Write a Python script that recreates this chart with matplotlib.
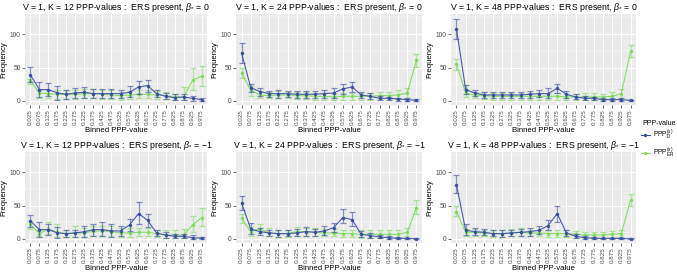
import matplotlib
matplotlib.use("Agg")
import matplotlib.pyplot as plt
from matplotlib.lines import Line2D
import numpy as np

bins = ["0.025","0.075","0.125","0.175","0.225","0.275","0.325","0.375","0.425","0.475",
        "0.525","0.575","0.625","0.675","0.725","0.775","0.825","0.875","0.925","0.975"]

# Panel 1: K=12, beta=0
d1_mean = [39,17,17,12,10,12,13,11,11,11,11,13,21,23,11,7,5,6,4,2]
d1_lo   = [28,6,7,2,3,4,5,4,4,4,4,6,11,14,6,3,1,1,0,0]
d1_hi   = [51,28,27,23,17,19,21,18,18,18,17,22,30,32,17,12,11,11,8,5]
e1_mean = [30,12,11,10,10,10,11,11,10,9,8,9,10,10,9,8,6,6,31,37]
e1_lo   = [25,5,4,3,3,3,4,4,3,3,2,3,4,4,3,3,1,1,16,23]
e1_hi   = [33,17,17,17,16,17,18,18,17,16,14,15,16,16,15,13,11,21,49,53]

# Panel 2: K=24, beta=0
d2_mean = [72,20,14,11,11,11,10,10,10,11,12,18,21,9,7,4,4,3,2,1]
d2_lo   = [57,13,7,6,5,6,5,5,5,4,5,11,14,5,3,1,1,0,0,0]
d2_hi   = [86,25,20,15,16,15,15,15,15,17,19,25,28,13,12,7,6,5,4,3]
e2_mean = [42,16,9,8,9,9,8,8,7,7,6,7,7,7,7,8,8,9,12,61]
e2_lo   = [35,8,4,4,4,4,3,3,2,2,1,2,2,2,2,3,3,3,4,51]
e2_hi   = [49,22,15,13,15,14,13,13,12,12,11,12,12,12,12,14,14,16,19,70]

# Panel 3: K=48, beta=0
d3_mean = [108,17,12,9,9,9,9,9,10,11,11,19,10,6,4,4,2,2,2,1]
d3_lo   = [93,11,7,5,5,5,5,5,5,6,5,12,5,3,2,2,0,0,0,0]
d3_hi   = [123,24,17,14,14,14,14,13,15,16,19,26,15,10,7,6,4,4,4,2]
e3_mean = [55,12,9,8,7,7,7,7,7,7,7,7,6,6,6,6,6,7,11,74]
e3_lo   = [47,6,4,3,2,2,2,2,2,2,2,2,1,1,2,1,1,2,4,65]
e3_hi   = [63,18,14,13,12,12,12,12,12,12,12,12,11,11,12,12,11,13,18,83]

# Panel 4: K=12, beta=-1
d4_mean = [27,14,14,9,8,9,11,14,14,12,12,21,38,28,9,6,4,4,2,1]
d4_lo   = [18,3,6,2,3,3,3,5,4,3,5,12,22,18,5,2,1,1,0,0]
d4_hi   = [36,26,22,18,13,14,20,23,25,22,20,30,56,38,13,10,8,8,6,3]
e4_mean = [22,8,15,10,8,9,9,12,12,11,9,9,10,10,8,6,6,6,21,32]
e4_lo   = [15,4,8,3,3,3,3,5,5,4,3,3,4,4,3,2,1,1,10,20]
e4_hi   = [27,13,25,22,13,20,17,20,20,19,16,16,16,16,14,13,13,15,34,46]

# Panel 5: K=24, beta=-1
d5_mean = [54,15,11,9,8,8,9,11,10,12,17,32,29,7,5,3,2,1,1,0]
d5_lo   = [43,8,6,4,3,4,5,5,5,6,10,24,20,3,2,1,0,0,0,0]
d5_hi   = [64,24,17,14,13,13,15,18,15,19,24,45,41,12,9,6,4,3,2,2]
e5_mean = [31,11,15,9,8,8,11,11,10,9,9,8,8,7,7,7,7,7,10,47]
e5_lo   = [24,4,9,4,3,3,5,5,5,4,4,3,3,2,2,2,2,2,4,37]
e5_hi   = [37,18,22,16,13,14,18,17,16,15,15,14,14,13,13,13,13,13,17,58]

# Panel 6: K=48, beta=-1
d6_mean = [81,13,11,10,8,8,9,10,11,13,20,38,9,4,2,1,1,1,1,0]
d6_lo   = [68,6,6,6,4,3,5,5,5,7,13,25,5,1,0,0,0,0,0,0]
d6_hi   = [96,22,16,15,13,14,14,15,16,19,28,50,14,7,4,3,2,2,2,1]
e6_mean = [41,10,10,9,8,8,9,10,9,9,8,8,8,7,6,6,6,7,8,58]
e6_lo   = [35,5,5,4,3,3,4,4,4,4,3,3,3,2,2,2,2,2,3,49]
e6_hi   = [50,15,15,14,13,13,15,17,14,14,13,13,13,12,11,11,11,12,14,67]

titles = [
    r"V = 1, K = 12 PPP-values :  ERS present, $\beta_{*}$ = 0",
    r"V = 1, K = 24 PPP-values :  ERS present, $\beta_{*}$ = 0",
    r"V = 1, K = 48 PPP-values :  ERS present, $\beta_{*}$ = 0",
    r"V = 1, K = 12 PPP-values :  ERS present, $\beta_{*}$ = $-$1",
    r"V = 1, K = 24 PPP-values :  ERS present, $\beta_{*}$ = $-$1",
    r"V = 1, K = 48 PPP-values :  ERS present, $\beta_{*}$ = $-$1",
]
panels = [
    (d1_mean, d1_lo, d1_hi, e1_mean, e1_lo, e1_hi),
    (d2_mean, d2_lo, d2_hi, e2_mean, e2_lo, e2_hi),
    (d3_mean, d3_lo, d3_hi, e3_mean, e3_lo, e3_hi),
    (d4_mean, d4_lo, d4_hi, e4_mean, e4_lo, e4_hi),
    (d5_mean, d5_lo, d5_hi, e5_mean, e5_lo, e5_hi),
    (d6_mean, d6_lo, d6_hi, e6_mean, e6_lo, e6_hi),
]

blue = "#3A4E9E"
green = "#7EDB5E"

plt.rcParams['font.family'] = ['Liberation Sans', 'DejaVu Sans']
plt.rcParams['mathtext.fontset'] = 'custom'
plt.rcParams['mathtext.rm'] = 'Liberation Sans'
plt.rcParams['mathtext.it'] = 'Liberation Sans:italic'
plt.rcParams['mathtext.bf'] = 'Liberation Sans:bold'

W, H = 677, 273
fig = plt.figure(figsize=(W/100, H/100), dpi=100)

lefts = [25, 236, 451]
widths = [182, 186, 185]
tops = [14, 152]
heights = [91, 91]

x = np.arange(1, len(bins) + 1)

def draw(ax, mean, lo, hi, color, z):
    mean = np.array(mean, float)
    lo = np.array(lo, float)
    hi = np.array(hi, float)
    ax.errorbar(x, mean, yerr=[mean - lo, hi - mean], fmt='none', ecolor=color,
                elinewidth=0.9, capsize=2.5, capthick=0.9, alpha=0.6, zorder=z)
    ax.plot(x, mean, color=color, lw=0.8, marker='o', ms=1.5, alpha=0.9, zorder=z + 1)

for i, (p, t) in enumerate(zip(panels, titles)):
    r, c = divmod(i, 3)
    l = lefts[c] / W
    w = widths[c] / W
    b = 1 - (tops[r] + heights[r]) / H
    h = heights[r] / H
    ax = fig.add_axes([l, b, w, h])
    ax.set_facecolor("#EBEBEB")
    for s in ax.spines.values():
        s.set_visible(False)
    ax.set_xlim(0.4, len(bins) + 0.6)
    ax.set_ylim(-6, 130)
    ax.set_yticks([0, 50, 100])
    ax.set_yticks([25, 75, 125], minor=True)
    ax.set_xticks(x)
    ax.set_xticklabels(bins, rotation=90, fontsize=4.5, color="#4D4D4D")
    ax.tick_params(axis='y', labelsize=4.8, labelcolor="#4D4D4D", length=2, color="#333333", width=0.5, pad=1)
    ax.tick_params(axis='x', length=2, color="#333333", width=0.5, pad=1.2)
    ax.tick_params(axis='y', which='minor', length=0)
    ax.grid(True, which='major', color='white', lw=0.7)
    ax.grid(True, which='minor', axis='y', color='white', lw=0.35)
    ax.set_axisbelow(True)
    dm, dl, dh, em, el, eh = p
    draw(ax, em, el, eh, green, 2)
    draw(ax, dm, dl, dh, blue, 4)
    ax.set_title(t, fontsize=6.3, pad=3)
    ax.set_xlabel("Binned PPP-value", fontsize=5.6, labelpad=1)
    ax.set_ylabel("Frequency", fontsize=5.6, labelpad=2)

# Legend (far right, between rows)
fig.text(642 / W, 1 - 124 / H, "PPP-value", fontsize=5.0, va='center', ha='left')
handles = [
    Line2D([0], [0], color=blue, lw=0.8, marker='o', ms=1.4),
    Line2D([0], [0], color=green, lw=0.8, marker='o', ms=1.4),
]
labels = [r"$\mathrm{PPP}_{\mathrm{D}}^{(s)}$", r"$\mathrm{PPP}_{\mathrm{ER}}^{(s)}$"]
leg = fig.legend(handles, labels, loc='upper left', bbox_to_anchor=(641 / W, 1 - 128 / H),
                 frameon=False, fontsize=4.8, handlelength=1.3, handletextpad=0.5,
                 labelspacing=0.5, borderaxespad=0, borderpad=0)

fig.savefig("out.png", dpi=100)
